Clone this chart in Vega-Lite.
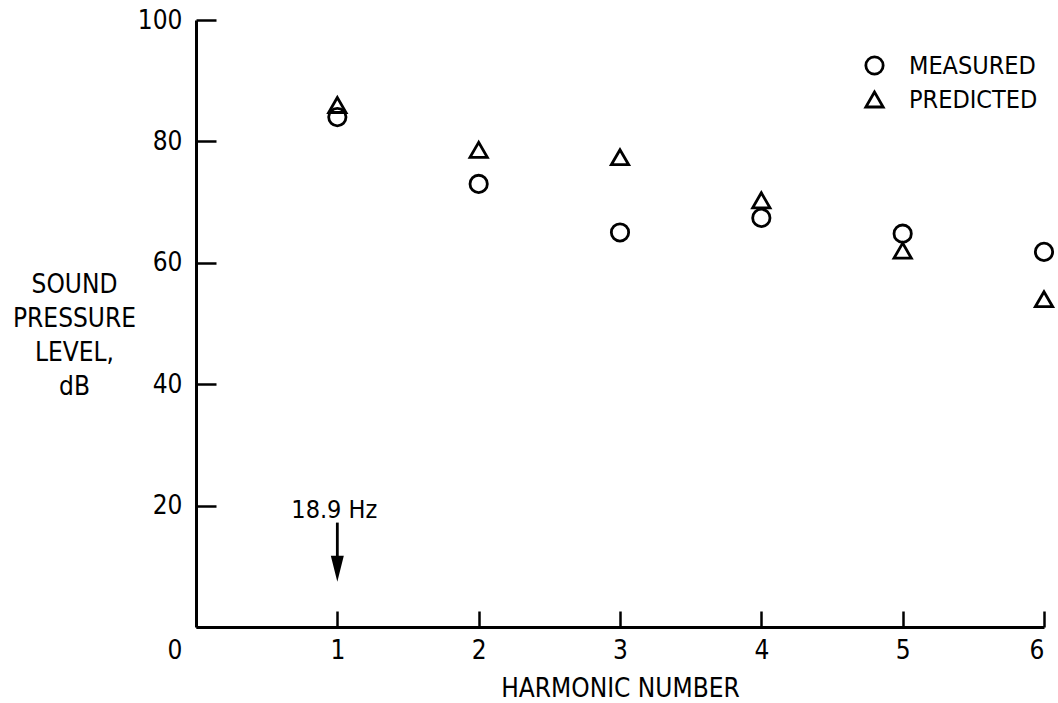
{
  "$schema": "https://vega.github.io/schema/vega-lite/v6.json",
  "width": 848,
  "height": 607,
  "autosize": {"type": "none"},
  "padding": {"left": 196, "top": 20, "right": 14, "bottom": 76},
  "background": "white",
  "config": {
    "view": {"stroke": null},
    "font": "DejaVu Sans Condensed, Liberation Sans Narrow, DejaVu Sans",
    "axis": {
      "domainColor": "black",
      "domainWidth": 3,
      "tickColor": "black",
      "tickWidth": 2.5,
      "labelColor": "black",
      "titleColor": "black",
      "labelFont": "DejaVu Sans Condensed, Liberation Sans Narrow, DejaVu Sans",
      "titleFont": "DejaVu Sans Condensed, Liberation Sans Narrow, DejaVu Sans",
      "labelFontSize": 26,
      "titleFontSize": 26,
      "titleFontWeight": "normal",
      "grid": false
    }
  },
  "datasets": {
    "points": [
      {"harmonic": 1, "spl": 84, "type": "MEASURED"},
      {"harmonic": 2, "spl": 73, "type": "MEASURED"},
      {"harmonic": 3, "spl": 65, "type": "MEASURED"},
      {"harmonic": 4, "spl": 67.4, "type": "MEASURED"},
      {"harmonic": 5, "spl": 64.8, "type": "MEASURED"},
      {"harmonic": 6, "spl": 61.8, "type": "MEASURED"},
      {"harmonic": 1, "spl": 86, "type": "PREDICTED"},
      {"harmonic": 2, "spl": 78.6, "type": "PREDICTED"},
      {"harmonic": 3, "spl": 77.4, "type": "PREDICTED"},
      {"harmonic": 4, "spl": 70.3, "type": "PREDICTED"},
      {"harmonic": 5, "spl": 62, "type": "PREDICTED"},
      {"harmonic": 6, "spl": 54, "type": "PREDICTED"}
    ],
    "arrow": [
      {"harmonic": 1, "top": 17.2, "bottom": 11.5, "head": 9.6, "label": "18.9 Hz", "labelY": 19.3}
    ]
  },
  "layer": [
    {
      "data": {"name": "points"},
      "mark": {"type": "point", "filled": false, "color": "black", "strokeWidth": 2.8, "size": 300, "opacity": 1},
      "encoding": {
        "x": {
          "field": "harmonic",
          "type": "quantitative",
          "scale": {"domain": [0, 6], "nice": false, "zero": false},
          "axis": {
            "values": [1, 2, 3, 4, 5, 6],
            "format": "d",
            "tickSize": -16,
            "labelPadding": 26,
            "title": "HARMONIC NUMBER",
            "titlePadding": 12
          }
        },
        "y": {
          "field": "spl",
          "type": "quantitative",
          "scale": {"domain": [0, 100], "nice": false},
          "axis": {
            "values": [0, 20, 40, 60, 80, 100],
            "format": "d",
            "tickSize": -20,
            "labelPadding": 34,
            "labelOffset": {"condition": {"test": "datum.value === 0", "value": 23}, "value": 0},
            "title": ["SOUND", "PRESSURE", "LEVEL,", "dB"],
            "titleAngle": 0,
            "titleAlign": "center",
            "titleBaseline": "top",
            "titleX": -122,
            "titleY": 251,
            "titleLineHeight": 34
          }
        },
        "shape": {
          "field": "type",
          "type": "nominal",
          "scale": {"domain": ["MEASURED", "PREDICTED"], "range": ["circle", "triangle-up"]},
          "legend": {
            "orient": "none",
            "legendX": 666,
            "legendY": 33,
            "title": null,
            "padding": 0,
            "labelFontSize": 25,
            "labelFont": "DejaVu Sans Condensed, Liberation Sans Narrow, DejaVu Sans",
            "labelColor": "black",
            "symbolSize": 300,
            "symbolStrokeWidth": 2.8,
            "symbolStrokeColor": "black",
            "symbolFillColor": "transparent",
            "labelOffset": 22,
            "rowPadding": 6
          }
        }
      }
    },
    {
      "data": {"name": "arrow"},
      "mark": {"type": "rule", "color": "black", "strokeWidth": 2.8},
      "encoding": {
        "x": {"field": "harmonic", "type": "quantitative"},
        "y": {"field": "top", "type": "quantitative"},
        "y2": {"field": "bottom"}
      }
    },
    {
      "data": {"name": "arrow"},
      "mark": {"type": "point", "filled": true, "color": "black", "opacity": 1, "size": 676, "shape": "M-0.5,-1L0.5,-1L0,1Z"},
      "encoding": {
        "x": {"field": "harmonic", "type": "quantitative"},
        "y": {"field": "head", "type": "quantitative"}
      }
    },
    {
      "data": {"name": "arrow"},
      "mark": {"type": "text", "color": "black", "fontSize": 25, "font": "DejaVu Sans Condensed, Liberation Sans Narrow, DejaVu Sans", "align": "center", "baseline": "middle", "dx": -3},
      "encoding": {
        "x": {"field": "harmonic", "type": "quantitative"},
        "y": {"field": "labelY", "type": "quantitative"},
        "text": {"field": "label"}
      }
    }
  ]
}
